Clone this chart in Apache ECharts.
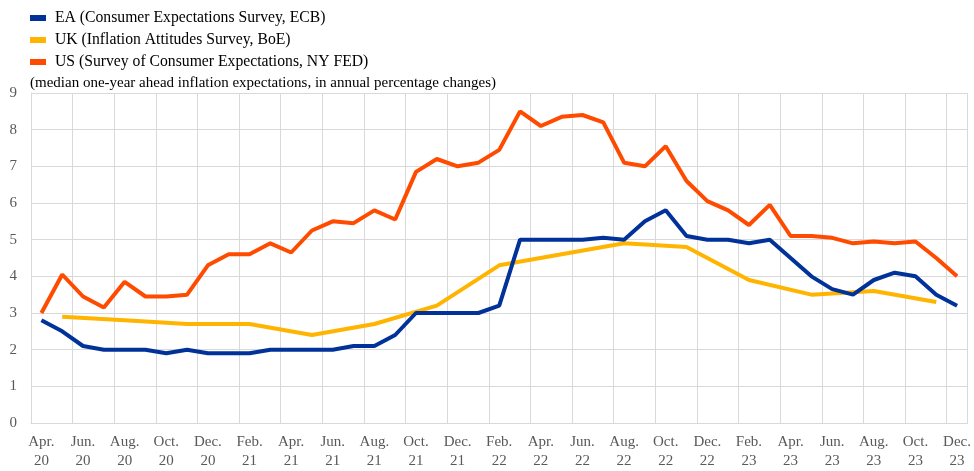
<!DOCTYPE html>
<html>
<head>
<meta charset="utf-8">
<script src="https://cdn.jsdelivr.net/npm/echarts@6/dist/echarts.min.js"></script>
<style>html,body{margin:0;padding:0;background:#fff}#c{width:974px;height:471px}</style>
</head>
<body>
<div id="c"></div>
<script>
const months = ['Apr.','May','Jun.','Jul.','Aug.','Sep.','Oct.','Nov.','Dec.','Jan.','Feb.','Mar.'];
const categories = [];
(function(){
  let m = 0, y = 20;
  for (let i = 0; i < 45; i++) {
    categories.push(months[m] + '\n' + y);
    m++; if (m === 12) m = 0;
    if (months[m] === 'Jan.') y++;
  }
})();

const eaValues = [2.8,2.5,2.1,2.0,2.0,2.0,1.9,2.0,1.9,1.9,1.9,2.0,2.0,2.0,2.0,2.1,2.1,2.4,3.0,3.0,3.0,3.0,3.2,5.0,5.0,5.0,5.0,5.05,5.0,5.5,5.8,5.1,5.0,5.0,4.9,5.0,4.5,4.0,3.65,3.5,3.9,4.1,4.0,3.5,3.2];
const ukValues = [null,2.9,null,null,2.8,null,null,2.7,null,null,2.7,null,null,2.4,null,null,2.7,null,null,3.2,null,null,4.3,null,null,4.6,null,null,4.9,null,null,4.8,null,null,3.9,null,null,3.5,null,null,3.6,null,null,3.3,null];
const usValues = [3.0,4.05,3.45,3.15,3.85,3.45,3.45,3.5,4.3,4.6,4.6,4.9,4.65,5.25,5.5,5.45,5.8,5.55,6.85,7.2,7.0,7.1,7.45,8.5,8.1,8.35,8.4,8.2,7.1,7.0,7.55,6.6,6.05,5.8,5.4,5.95,5.1,5.1,5.05,4.9,4.95,4.9,4.95,4.5,4.0];

const serif = 'Liberation Serif';
const grey = '#595959';
const gridC = '#d9d9d9';

const chart = echarts.init(document.getElementById('c'));
chart.setOption({
  animation: false,
  textStyle: {fontFamily: serif},
  title: {
    text: '(median one-year ahead inflation expectations, in annual percentage changes)',
    left: 25, top: 71,
    textStyle: {fontFamily: serif, fontSize: 15, fontWeight: 'normal', color: '#000'}
  },
  legend: {
    orient: 'vertical', left: 25, top: 5,
    icon: 'rect', itemWidth: 16, itemHeight: 6, itemGap: 6,
    textStyle: {fontFamily: serif, fontSize: 15.7, color: '#000', padding: [0, 0, 0, 4]},
    data: ['EA (Consumer Expectations Survey, ECB)','UK (Inflation Attitudes Survey, BoE)','US (Survey of Consumer Expectations, NY FED)']
  },
  grid: {left: 31, right: 5, top: 93, bottom: 48, containLabel: false},
  xAxis: {
    type: 'category', data: categories, boundaryGap: true,
    axisLine: {show: true, lineStyle: {color: gridC}},
    axisTick: {show: false, interval: 1},
    axisLabel: {interval: 1, color: grey, fontFamily: serif, fontSize: 15, lineHeight: 19, margin: 10},
    splitLine: {show: true, interval: 1, lineStyle: {color: gridC}}
  },
  yAxis: {
    type: 'value', min: 0, max: 9, interval: 1,
    axisLine: {show: true, lineStyle: {color: gridC}},
    axisTick: {show: false},
    axisLabel: {color: grey, fontFamily: serif, fontSize: 15, margin: 14},
    splitLine: {show: true, lineStyle: {color: gridC}}
  },
  series: [
    {name: 'EA (Consumer Expectations Survey, ECB)', type: 'line', data: eaValues, symbol: 'none', lineStyle: {width: 4, color: '#003299'}, itemStyle: {color: '#003299'}, z: 3},
    {name: 'UK (Inflation Attitudes Survey, BoE)', type: 'line', data: ukValues, connectNulls: true, symbol: 'none', lineStyle: {width: 4, color: '#FFB400'}, itemStyle: {color: '#FFB400'}, z: 2},
    {name: 'US (Survey of Consumer Expectations, NY FED)', type: 'line', data: usValues, symbol: 'none', lineStyle: {width: 4, color: '#FF4B00'}, itemStyle: {color: '#FF4B00'}, z: 4}
  ]
});
</script>
</body>
</html>
